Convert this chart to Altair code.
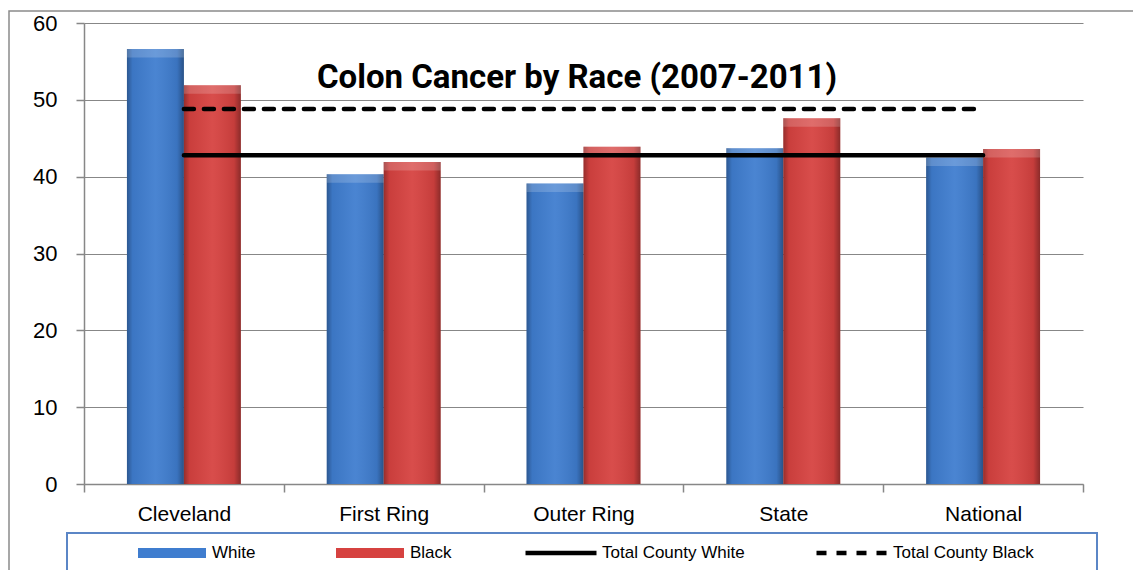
import altair as alt
import pandas as pd

# ---- data ----
categories = ["Cleveland", "First Ring", "Outer Ring", "State", "National"]
white_rates = [56.6, 40.3, 39.1, 43.7, 42.5]
black_rates = [51.9, 41.9, 43.9, 47.6, 43.6]
total_county_white = 42.8
total_county_black = 48.8
race_labels = ["White", "Black"]
line_labels = ["Total County White", "Total County Black"]
y_ticks = [0, 10, 20, 30, 40, 50, 60]
title_text = "Colon Cancer by Race (2007-2011)"

bars_df = pd.DataFrame({
    "category": categories * 2,
    "race": [race_labels[0]] * len(categories) + [race_labels[1]] * len(categories),
    "rate": white_rates + black_rates,
})
lines_df = pd.DataFrame({
    "category": categories * 2,
    "series": [line_labels[0]] * len(categories) + [line_labels[1]] * len(categories),
    "rate": [total_county_white] * len(categories) + [total_county_black] * len(categories),
})
one_row = pd.DataFrame({"k": [0]})

# ---- styles ----
FONT = "Liberation Sans, Arial, sans-serif"
TITLE_FONT = "Roboto, Liberation Sans, sans-serif"
GRAY = "#878787"
BLUE = "#3f7dcf"
RED = "#d64240"

x_enc = alt.X(
    "category:N", sort=categories, title=None,
    scale=alt.Scale(paddingInner=0, paddingOuter=0),
    axis=alt.Axis(labelAngle=0, tickBand="extent", tickSize=8, labelPadding=11,
                  labelFontSize=21, labelFont=FONT, labelColor="black",
                  domainColor=GRAY, tickColor=GRAY, grid=False, domainWidth=1.5, tickWidth=1.5),
)
y_enc = alt.Y(
    "rate:Q", title=None,
    scale=alt.Scale(domain=[0, 60], nice=False),
    axis=alt.Axis(values=y_ticks, tickSize=8, labelPadding=19, labelFontSize=22,
                  labelFont=FONT, labelColor="black", grid=True, gridColor=GRAY,
                  gridWidth=1.2, domainColor=GRAY, tickColor=GRAY, domainWidth=1.5, tickWidth=1.5),
)
x_off = alt.XOffset("race:N", sort=race_labels,
                    scale=alt.Scale(paddingInner=0, paddingOuter=0.754))

bars = alt.Chart(bars_df).mark_bar().encode(
    x=x_enc, xOffset=x_off, y=y_enc,
    color=alt.Color(
        "race:N", sort=race_labels,
        scale=alt.Scale(domain=race_labels, range=[BLUE, RED]),
        legend=alt.Legend(
            title=None, orient="none", legendX=54, legendY=496, direction="horizontal",
            symbolType="M-1,-0.15L1,-0.15L1,0.15L-1,0.15Z", symbolSize=4624,
            symbolStrokeWidth=0, labelFontSize=17, labelFont=FONT, labelColor="black",
            columnPadding=80, labelOffset=6, padding=0,
        ),
    ),
)

sheen = alt.Chart(bars_df).mark_bar(
    color=alt.LinearGradient(
        gradient="linear", x1=0, x2=1, y1=0, y2=0,
        stops=[
            alt.GradientStop(color="rgba(0,0,0,0.30)", offset=0),
            alt.GradientStop(color="rgba(0,0,0,0.06)", offset=0.1),
            alt.GradientStop(color="rgba(255,255,255,0.06)", offset=0.5),
            alt.GradientStop(color="rgba(0,0,0,0.08)", offset=0.88),
            alt.GradientStop(color="rgba(0,0,0,0.35)", offset=1),
        ],
    )
).encode(x=x_enc, xOffset=x_off, y=y_enc)

bevel = alt.Chart(bars_df).transform_calculate(
    top2="datum.rate - 1.1"
).mark_bar(color="white", opacity=0.18).encode(
    x=x_enc, xOffset=x_off, y=y_enc, y2="top2:Q"
)

lines = alt.Chart(lines_df).mark_line(color="black", strokeWidth=4.5, strokeCap="round").encode(
    x=x_enc, y=y_enc,
    strokeDash=alt.StrokeDash(
        "series:N", sort=line_labels,
        scale=alt.Scale(domain=line_labels, range=[[1, 0], [10, 10]]),
        legend=alt.Legend(
            title=None, orient="none", legendX=439, legendY=492, direction="horizontal",
            symbolType="stroke", symbolSize=5041, symbolStrokeWidth=4.5,
            symbolStrokeColor="black", labelFontSize=17, labelFont=FONT,
            labelColor="black", columnPadding=62, labelOffset=3, padding=0,
        ),
    ),
)

title = alt.Chart(one_row).mark_text(
    text=title_text, font=TITLE_FONT, fontSize=33, fontWeight="bold",
    align="center", baseline="alphabetic", color="black",
).encode(x=alt.value(493), y=alt.value(65))

legend_box = alt.Chart(one_row).mark_rect(
    fill="white", fillOpacity=0, stroke="#5b86c6", strokeWidth=2
).encode(x=alt.value(-17), x2=alt.value(1013), y=alt.value(510), y2=alt.value(549))

outer_box = alt.Chart(one_row).mark_rect(
    fill="white", fillOpacity=0, stroke="#8a8a8a", strokeWidth=1.5
).encode(x=alt.value(-75), x2=alt.value(1200), y=alt.value(-12), y2=alt.value(700))

chart = alt.layer(outer_box, bars, sheen, bevel, lines, title, legend_box).properties(
    width=999, height=461,
    padding={"left": 76, "top": 15, "right": 50, "bottom": 86},
    autosize=alt.AutoSizeParams(type="none"),
).configure_view(strokeWidth=0)

chart.save("out.html", embed_options={"renderer": "svg", "actions": False})
